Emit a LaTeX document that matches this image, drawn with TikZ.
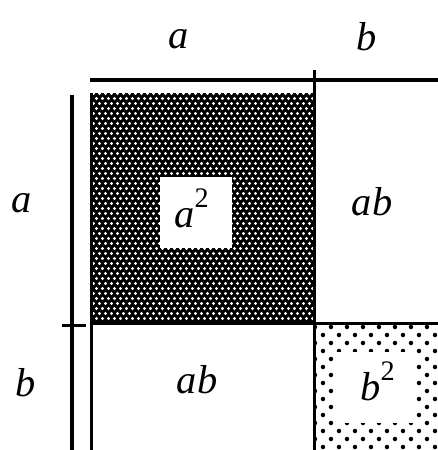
\documentclass[tikz,border=0pt]{standalone}
\usepackage{fontspec}
\setmainfont{Liberation Serif}
\usetikzlibrary{patterns.meta}

\tikzdeclarepattern{
  name=densedots, type=uncolored,
  bounding box={(0cm,0cm) and (0.12cm,0.2cm)},
  tile size={(0.12cm,0.2cm)},
  code={\fill (0.03cm,0.05cm) circle (0.033cm); \fill (0.09cm,0.15cm) circle (0.033cm);}
}
\tikzdeclarepattern{
  name=sparsedots, type=uncolored,
  bounding box={(0cm,0cm) and (0.32cm,0.32cm)},
  tile size={(0.32cm,0.32cm)},
  code={\fill (0.08cm,0.08cm) circle (0.045cm); \fill (0.24cm,0.24cm) circle (0.045cm);}
}

\begin{document}
\begin{tikzpicture}[x=0.02cm, y=-0.02cm,
  rule/.style={line width=0.08cm},
  edge/.style={line width=0.06cm},
  lbl/.style={font=\fontsize{23}{28}\selectfont\itshape, inner sep=0pt, anchor=base}]
  \useasboundingbox[fill=white] (0,0) rectangle (438,450);
  % a^2 square
  \fill[black] (90,93) rectangle (314,323);
  \fill[pattern=densedots, pattern color=white] (90,93) rectangle (314,323);
  \fill[white] (160,177) rectangle (232,248);
  % b^2 square
  \fill[pattern=sparsedots] (316,325) rectangle (438,450);
  \fill[white] (335,352) rectangle (415,423);
  % cell borders
  \draw[edge] (91,93) -- (91,450);
  \draw[edge] (90,323) -- (438,323);
  \draw[edge] (314,70) -- (314,450);
  % side measures
  \draw[rule] (90,80) -- (438,80);
  \draw[rule] (72,95) -- (72,450);
  \draw[edge] (62,325) -- (86,325);
  % labels
  \node[lbl] (topA) at (179,48) {a};
  \node[lbl] (topB) at (367,50) {b};
  \node[lbl] (leftA) at (22,212) {a};
  \node[lbl] (leftB) at (26,396) {b};
  \node[lbl] (sqA) at (192,227) {a\raisebox{2pt}{\textsuperscript{\upshape 2}}};
  \node[lbl] (abTop) at (372,215) {ab};
  \node[lbl] (abBot) at (197,393) {ab};
  \node[lbl] (sqB) at (378,400) {b\raisebox{2pt}{\textsuperscript{\upshape 2}}};
\end{tikzpicture}
\end{document}
